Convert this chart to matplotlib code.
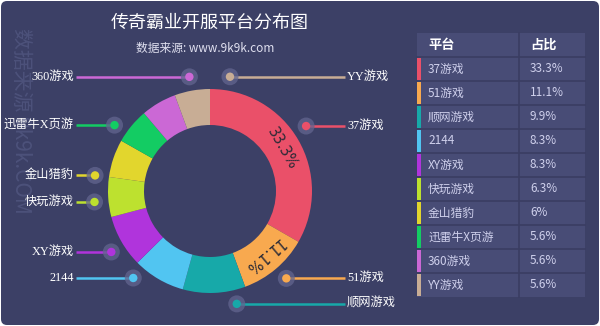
import numpy as np
import matplotlib
matplotlib.use("Agg")
import matplotlib.pyplot as plt
from matplotlib.patches import Rectangle, FancyBboxPatch, Circle

plt.rcParams['font.family'] = ['Noto Sans CJK SC', 'DejaVu Sans']

# ---------------- data ----------------
platforms = ["37游戏", "51游戏", "顺网游戏", "2144", "XY游戏", "快玩游戏",
             "金山猎豹", "迅雷牛X页游", "360游戏", "YY游戏"]
shares = [33.3, 11.1, 9.9, 8.3, 8.3, 6.3, 6.0, 5.6, 5.6, 5.6]
share_labels = ["33.3%", "11.1%", "9.9%", "8.3%", "8.3%", "6.3%", "6%",
                "5.6%", "5.6%", "5.6%"]
colors = ["#ea5069", "#f8a94f", "#17a9a9", "#51c5f1", "#b034dc", "#bde12f",
          "#e2d62d", "#13cc63", "#cb68d5", "#c8ad95"]
title = "传奇霸业开服平台分布图"
subtitle = "数据来源: www.9k9k.com"
watermark = "数据来源 9k9k.COM"
table_header = ["平台", "占比"]

# ---------------- layout / style ----------------
W, H = 600, 326
BG = "#3c4066"
TABLE_BG = "#484c76"
GRID = "#3a3d62"
CX, CY = 210, H - 191
R_OUT, RING_W = 102, 36
# angular nudges (deg, clockwise) applied to label anchors for de-overlap
label_nudge = [-4, -1, -11, 11, -2, -2, -11, -5, 20, 20]
LABEL_R = 116
LABEL_FONT = ["Liberation Serif", "Noto Sans CJK SC"]

fig = plt.figure(figsize=(W / 100, H / 100), dpi=100, facecolor="white")
ax = fig.add_axes([0, 0, 1, 1])

ax.add_patch(FancyBboxPatch((1, 1), W - 2, H - 2,
                            boxstyle="round,pad=0,rounding_size=6",
                            fc=BG, ec="none", zorder=0))

# watermark
ax.text(21, H - 121, watermark, rotation=-90, color="#4d527b", fontsize=15,
        ha="center", va="center", zorder=1)

# titles
ax.text(210, H - 23, title, color="white", fontsize=13, ha="center",
        va="center", zorder=5)
ax.text(205, H - 48, subtitle, color="#e0e0f0", fontsize=8.5, ha="center",
        va="center", zorder=5)

# donut
wedges, _ = ax.pie(shares, colors=colors, startangle=90, counterclock=False,
                   radius=R_OUT, center=(CX, CY),
                   wedgeprops=dict(width=RING_W, linewidth=0))
ax.set_xlim(0, W)
ax.set_ylim(0, H)
ax.set_aspect("equal")
ax.axis("off")

for w, lab, v, c, nud, name in zip(wedges, share_labels, shares, colors,
                                    label_nudge, platforms):
    mid = (w.theta1 + w.theta2) / 2.0
    # percentage inside ring for large slices
    if v >= 10:
        rr = R_OUT - RING_W / 2
        tx = CX + rr * np.cos(np.radians(mid))
        ty = CY + rr * np.sin(np.radians(mid))
        ax.text(tx, ty, lab, rotation=mid - 90, rotation_mode="anchor",
                ha="center", va="center", fontsize=10.5, color="#2a2a36",
                family=["DejaVu Sans"], zorder=6)
    ang = np.radians(mid - nud)
    dx = CX + LABEL_R * np.cos(ang)
    dy = CY + LABEL_R * np.sin(ang)
    if dx > CX:
        ax.plot([dx, 345], [dy, dy], color=c, lw=1.8, zorder=4,
                solid_capstyle="butt")
        ax.text(347, dy, name, color="white", fontsize=8.8, ha="left",
                va="center", family=LABEL_FONT, zorder=5)
    else:
        ax.plot([76, dx], [dy, dy], color=c, lw=1.8, zorder=4,
                solid_capstyle="butt")
        ax.text(74, dy, name, color="white", fontsize=8.8, ha="right",
                va="center", family=LABEL_FONT, zorder=5)
    ax.add_patch(Circle((dx, dy), 8.5, fc="#62658f", ec="none", alpha=0.75,
                        zorder=4.5))
    ax.add_patch(Circle((dx, dy), 4.2, fc=c, ec="none", zorder=5))

# table
TX0, TX1, TDIV = 417, 585, 519
TTOP = H - 33
ROW_H = 24
n = len(platforms)
ax.add_patch(Rectangle((TX0, TTOP - ROW_H * (n + 1)), TX1 - TX0,
                       ROW_H * (n + 1), fc=TABLE_BG, ec="none", zorder=2))
for i in range(1, n + 1):
    yy = TTOP - ROW_H * i
    ax.plot([TX0, TX1], [yy, yy], color=GRID, lw=1.2, zorder=3)
ax.plot([TDIV, TDIV], [TTOP, TTOP - ROW_H * (n + 1)], color=GRID, lw=1.2,
        zorder=3)
ax.text(428, TTOP - ROW_H / 2, table_header[0], color="white", fontsize=9.5,
        fontweight="bold", ha="left", va="center", zorder=5)
ax.text(530, TTOP - ROW_H / 2, table_header[1], color="white", fontsize=9.5,
        fontweight="bold", ha="left", va="center", zorder=5)
for i, (name, lab, c) in enumerate(zip(platforms, share_labels, colors)):
    ytop = TTOP - ROW_H * (i + 1)
    ax.add_patch(Rectangle((TX0, ytop - ROW_H + 0.6), 4, ROW_H - 1.2, fc=c,
                           ec="none", zorder=4))
    ax.text(428, ytop - ROW_H / 2, name, color="#cfd0ec", fontsize=8.5,
            ha="left", va="center", zorder=5)
    ax.text(530, ytop - ROW_H / 2, lab, color="#cfd0ec", fontsize=8.5,
            ha="left", va="center", zorder=5)

fig.savefig("out.png", dpi=100, facecolor="white")
